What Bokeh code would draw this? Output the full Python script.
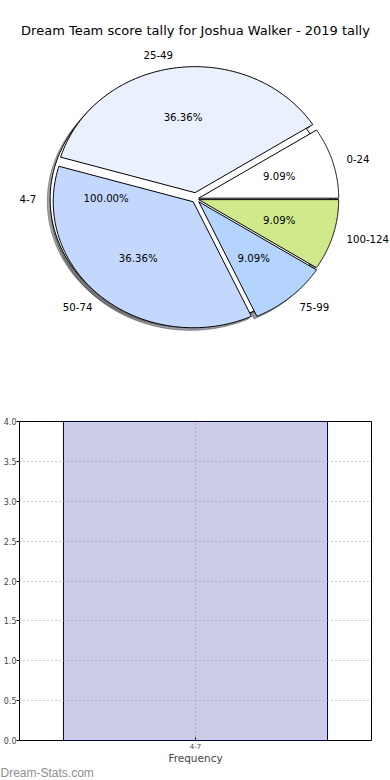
import numpy as np
from bokeh.plotting import figure
from bokeh.models import (Range1d, ColumnDataSource, FactorRange, FixedTicker,
                          PrintfTickFormatter, Label, Title)
from bokeh.embed import file_html
from bokeh.resources import INLINE
from bokeh.core.properties import value

# ---------------- data ----------------
title_text = "Dream Team score tally for Joshua Walker - 2019 tally"
score_ranges = ["0-24", "25-49", "50-74", "75-99", "100-124"]
score_counts = [1, 4, 4, 1, 1]
score_colors = ["#ffffff", "#eaf0fe", "#c4d8fe", "#b4d4fe", "#cfe98b"]
freq_ranges = ["4-7"]
freq_counts = [4]
y_ticks = [0.0, 0.5, 1.0, 1.5, 2.0, 2.5, 3.0, 3.5, 4.0]
x_label = "Frequency"
watermark = "Dream-Stats.com"

# ---------------- style constants ----------------
wedge_explode = [0.02, 0.05, 0.03, 0.03, 0.02]
full_explode = 0.042
FONT = "DejaVu Sans"
W = 390
H1 = 390
H2 = 390
CX, CY = 195.5, 198.4      # pie centre (px, top figure)
RX, RY = 140.0, 126.0      # pie radii (px)
SHADOW = (-0.02, -0.02)


def shade(hexcol):
    h = hexcol.lstrip("#")
    r, g, b = (int(h[i:i + 2], 16) for i in (0, 2, 4))
    return "#%02x%02x%02x" % (int(r * 0.3), int(g * 0.3), int(b * 0.3))


def wedge(x0, y0, t1, t2, full=False, n=120):
    th = np.radians(np.linspace(t1, t2, n))
    xs = list(x0 + np.cos(th))
    ys = list(y0 + np.sin(th))
    if not full:
        xs = [x0] + xs
        ys = [y0] + ys
    return xs, ys


# ---------------- pie figure ----------------
p1 = figure(width=W, height=H1, output_backend="svg",
            toolbar_location=None, x_axis_location=None, y_axis_location=None,
            x_range=Range1d((0 - CX) / RX, (W - CX) / RX),
            y_range=Range1d((CY - H1) / RY, (CY - 0) / RY),
            min_border=0, outline_line_color=None)
p1.grid.visible = False
p1.background_fill_color = "white"

total = float(sum(score_counts))
fracs = [c / total for c in score_counts]
bounds = np.concatenate([[0.0], np.cumsum(fracs) * 360.0])

w_xs, w_ys, s_xs, s_ys, s_cols = [], [], [], [], []
lab_x, lab_y, lab_t, lab_a = [], [], [], []
pct_x, pct_y, pct_t = [], [], []
for i, name in enumerate(score_ranges):
    t1, t2 = bounds[i], bounds[i + 1]
    mid = np.radians((t1 + t2) / 2)
    ox = wedge_explode[i] * np.cos(mid)
    oy = wedge_explode[i] * np.sin(mid)
    xs, ys = wedge(ox, oy, t1, t2)
    w_xs.append(xs)
    w_ys.append(ys)
    s_xs.append([x + SHADOW[0] for x in xs])
    s_ys.append([y + SHADOW[1] for y in ys])
    s_cols.append(shade(score_colors[i]))
    lab_x.append(ox + 1.1 * np.cos(mid))
    lab_y.append(oy + 1.1 * np.sin(mid))
    lab_t.append(name)
    lab_a.append("left" if np.cos(mid) > 0 else "right")
    pct_x.append(ox + 0.6 * np.cos(mid))
    pct_y.append(oy + 0.6 * np.sin(mid))
    pct_t.append("%.2f%%" % (100.0 * fracs[i]))

# full pie for the frequency range (one value -> 100%)
f_total = float(sum(freq_counts))
f_mid = np.radians(180.0)
fox = full_explode * np.cos(f_mid)
foy = full_explode * np.sin(f_mid)
fxs, fys = wedge(fox, foy, 0.0, 360.0 * freq_counts[0] / f_total, full=True, n=360)
s_xs.append([x + SHADOW[0] for x in fxs])
s_ys.append([y + SHADOW[1] for y in fys])
s_cols.append(shade(score_colors[0]))
lab_x.append(fox + 1.1 * np.cos(f_mid))
lab_y.append(foy + 1.1 * np.sin(f_mid))
lab_t.append(freq_ranges[0])
lab_a.append("right")
pct_x.append(fox + 0.6 * np.cos(f_mid))
pct_y.append(foy + 0.6 * np.sin(f_mid))
pct_t.append("%.2f%%" % (100.0 * freq_counts[0] / f_total))

p1.patches(xs=s_xs, ys=s_ys, fill_color=s_cols, fill_alpha=0.5,
           line_color=s_cols, line_alpha=0.5, line_width=1)
p1.patch(x=fxs, y=fys, fill_color=score_colors[0], line_color="black",
         line_width=1)
p1.patches(xs=w_xs, ys=w_ys, fill_color=score_colors, line_color="black",
           line_width=1)

lab_src = ColumnDataSource(dict(x=lab_x, y=lab_y, t=lab_t, a=lab_a))
p1.text(x="x", y="y", text="t", text_align="a", source=lab_src,
        text_baseline="middle", text_font=value(FONT),
        text_font_size="10.2px", text_color="black")
pct_src = ColumnDataSource(dict(x=pct_x, y=pct_y, t=pct_t))
p1.text(x="x", y="y", text="t", source=pct_src, text_align="center",
        text_baseline="middle", text_font=value(FONT),
        text_font_size="10.2px", text_color="black")
p1.text(x=[(195 - CX) / RX], y=[(CY - 30) / RY], text=[title_text],
        text_align="center", text_baseline="middle", text_font=value(FONT),
        text_font_size="13px", text_color="black")

# ---------------- bar figure ----------------
p2 = figure(width=W, height=H2, output_backend="svg", toolbar_location=None,
            x_range=FactorRange(factors=freq_ranges, range_padding=0),
            y_range=Range1d(0, 4),
            min_border_left=19, min_border_right=19,
            min_border_top=31, min_border_bottom=40,
            outline_line_color="black", outline_line_width=1)
p2.vbar(x=freq_ranges, top=freq_counts, width=0.75, fill_color="navy",
        fill_alpha=0.2, line_color="navy", line_width=1)

p2.yaxis.ticker = FixedTicker(ticks=y_ticks)
p2.yaxis.formatter = PrintfTickFormatter(format="%.1f")
p2.yaxis.major_label_text_font_size = "8px"
p2.yaxis.major_label_text_font = FONT
p2.yaxis.major_tick_out = 3
p2.yaxis.major_tick_in = 0
p2.yaxis.minor_tick_line_color = None
p2.yaxis.major_label_standoff = 0
p2.yaxis.axis_line_color = None
p2.yaxis.major_tick_line_color = "black"

p2.xaxis.major_label_text_font_size = "7px"
p2.xaxis.major_label_text_font = FONT
p2.xaxis.major_tick_out = 0
p2.xaxis.major_tick_in = 3
p2.xaxis.major_label_standoff = 2
p2.xaxis.axis_line_color = None
p2.xaxis.axis_label = x_label
p2.xaxis.axis_label_text_font = FONT
p2.xaxis.axis_label_text_font_size = "10.5px"
p2.xaxis.axis_label_text_font_style = "normal"
p2.xaxis.axis_label_standoff = 0

for g in (p2.xgrid, p2.ygrid):
    g.grid_line_color = "#8c8c8c"
    g.grid_line_dash = "1 3"
    g.grid_line_alpha = 0.9
    g.level = "overlay"

bar_center = freq_ranges.index("4-7") + 0.5   # synthetic coordinate of the factor
p2.add_layout(Label(x=bar_center, y=freq_counts[0], text=str(freq_counts[0]),
                    y_offset=3, text_align="center", text_baseline="bottom",
                    text_font=FONT, text_font_size="10px",
                    text_color="#1010c8"))
p2.add_layout(Title(text=watermark, align="left", offset=-19, standoff=-6,
                    text_font="Liberation Sans", text_font_size="12px",
                    text_font_style="normal", text_color="#8f8f8f"), "below")

open("out.html", "w").write(file_html([p1, p2], INLINE))
